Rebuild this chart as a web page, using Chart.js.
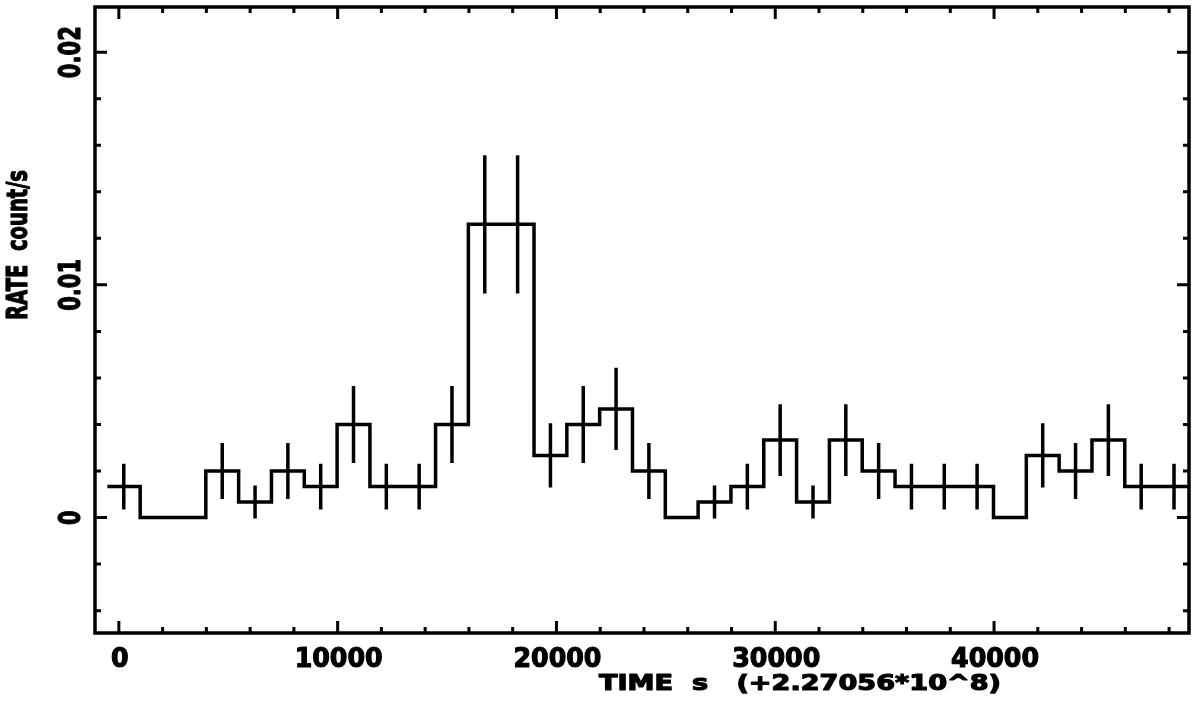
<!DOCTYPE html>
<html>
<head>
<meta charset="utf-8">
<title>RATE vs TIME</title>
<script src="https://cdn.jsdelivr.net/npm/chart.js@4.4.1/dist/chart.umd.min.js"></script>
<style>
  html, body { margin: 0; padding: 0; background: #fff; }
  canvas { display: block; }
</style>
</head>
<body>
<canvas id="lightCurve" width="1200" height="706"></canvas>
<script>
// bin centres in s (offset from 2.27056e8), bins are 1500 s wide
const binCenters = [225, 1725, 3225, 4725, 6225, 7725, 9225, 10725, 12225, 13725, 15225,
    16725, 18225, 19725, 21225, 22725, 24225, 25725, 27225, 28725, 30225, 31725, 33225,
    34725, 36225, 37725, 39225, 40725, 42225, 43725, 45225, 46725, 48225];
const binWidth = 1500;

const rates = [0.00133, 0, 0, 0.0020, 0.00067, 0.0020, 0.00133, 0.0040, 0.00133, 0.00133, 0.0040,
    0.0126, 0.0126, 0.00267, 0.0040, 0.00467, 0.0020, 0, 0.00067, 0.00133, 0.00333, 0.00067,
    0.00333, 0.0020, 0.00133, 0.00133, 0.00133, 0, 0.00267, 0.0020, 0.00333, 0.00133, 0.00133];

const rateErrors = [0.00098, 0, 0, 0.0012, 0.00071, 0.0012, 0.00098, 0.00165, 0.00098, 0.00098, 0.00165,
    0.00297, 0.00297, 0.00138, 0.00165, 0.00177, 0.0012, 0, 0.00071, 0.00098, 0.00154, 0.00071,
    0.00154, 0.0012, 0.00098, 0.00098, 0.00098, 0, 0.00138, 0.0012, 0.00154, 0.00098, 0.00098];

const xTickValues = [0, 10000, 20000, 30000, 40000];
const xTickLabels = ['0', '10000', '20000', '30000', '40000'];
const xMinorTicks = [2000, 4000, 6000, 8000, 12000, 14000, 16000, 18000, 22000, 24000, 26000, 28000,
    32000, 34000, 36000, 38000, 42000, 44000, 46000, 48000];
const yTickValues = [0, 0.01, 0.02];
const yTickLabels = ['0', '0.01', '0.02'];
const yMinorTicks = [-0.004, -0.002, 0.002, 0.004, 0.006, 0.008, 0.012, 0.014, 0.016, 0.018];

const xRange = [-1090, 48910];
const yRange = [-0.00496, 0.02194];

// step histogram: one point per bin start, plus the end of the last bin
const stepPoints = binCenters.map((c, i) => ({ x: c - binWidth / 2, y: rates[i] }));
stepPoints.push({ x: binCenters[binCenters.length - 1] + binWidth / 2, y: rates[rates.length - 1] });

// vertical error bars, split by null gaps
const errorPoints = [];
binCenters.forEach((c, i) => {
    if (rateErrors[i] > 0) {
        errorPoints.push({ x: c, y: rates[i] - rateErrors[i] });
        errorPoints.push({ x: c, y: rates[i] + rateErrors[i] });
        errorPoints.push({ x: c, y: null });
    }
});

function drawText(ctx, text, px, py, size, stretch, align, rotate) {
    ctx.save();
    ctx.translate(px, py);
    if (rotate) ctx.rotate(rotate);
    ctx.scale(stretch, 1);
    ctx.font = 'bold ' + size + 'px "DejaVu Sans"';
    ctx.textAlign = align;
    ctx.textBaseline = 'alphabetic';
    ctx.fillStyle = '#000';
    ctx.strokeStyle = '#000';
    ctx.lineWidth = 1.2;
    ctx.lineJoin = 'round';
    ctx.fillText(text, 0, 0);
    ctx.strokeText(text, 0, 0); // PGPLOT text is heavier than plain bold
    ctx.restore();
}

function stretchFor(ctx, text, size, width) {
    ctx.save();
    ctx.font = 'bold ' + size + 'px "DejaVu Sans"';
    const w = ctx.measureText(text).width;
    ctx.restore();
    return width / w;
}

const frameAndLabels = {
    id: 'frameAndLabels',
    afterDatasetsDraw(chart) {
        const { ctx, chartArea: a, scales: { x, y } } = chart;
        ctx.save();
        ctx.strokeStyle = '#000';
        ctx.lineWidth = 3.5;
        ctx.strokeRect(a.left, a.top, a.right - a.left, a.bottom - a.top);

        // inward ticks on all four sides
        ctx.lineWidth = 3;
        ctx.beginPath();
        const tickX = (v, len) => {
            const px = x.getPixelForValue(v);
            ctx.moveTo(px, a.bottom); ctx.lineTo(px, a.bottom - len);
            ctx.moveTo(px, a.top); ctx.lineTo(px, a.top + len);
        };
        const tickY = (v, len) => {
            const py = y.getPixelForValue(v);
            ctx.moveTo(a.left, py); ctx.lineTo(a.left + len, py);
            ctx.moveTo(a.right, py); ctx.lineTo(a.right - len, py);
        };
        xTickValues.forEach(v => tickX(v, 12));
        xMinorTicks.forEach(v => tickX(v, 6));
        yTickValues.forEach(v => tickY(v, 12));
        yMinorTicks.forEach(v => tickY(v, 6));
        ctx.stroke();

        // x tick labels
        const xs = stretchFor(ctx, '10000', 27, 88);
        xTickValues.forEach((v, i) => {
            drawText(ctx, xTickLabels[i], x.getPixelForValue(v) + 1, 667, 27, xs, 'center');
        });

        // y tick labels, rotated
        const ys = stretchFor(ctx, '0.02', 31, 52);
        yTickValues.forEach((v, i) => {
            drawText(ctx, yTickLabels[i], 80, y.getPixelForValue(v), 31, ys, 'center', -Math.PI / 2);
        });

        // axis titles
        const yTitle = 'RATE  count/s';
        drawText(ctx, yTitle, 27, 245, 29, stretchFor(ctx, yTitle, 29, 150), 'center', -Math.PI / 2);
        const xTitle = 'TIME  s   (+2.27056*10^8)';
        drawText(ctx, xTitle, 599, 690, 21, stretchFor(ctx, xTitle, 21, 402), 'left');
        ctx.restore();
    }
};

new Chart(document.getElementById('lightCurve'), {
    type: 'line',
    data: {
        datasets: [{
            label: 'RATE',
            data: stepPoints,
            stepped: 'before',
            borderColor: '#000',
            borderWidth: 3.5,
            borderJoinStyle: 'miter',
            pointRadius: 0,
            fill: false
        }, {
            label: 'error',
            data: errorPoints,
            borderColor: '#000',
            borderWidth: 3.5,
            borderCapStyle: 'butt',
            pointRadius: 0,
            spanGaps: false,
            fill: false
        }]
    },
    options: {
        responsive: false,
        animation: false,
        devicePixelRatio: 1,
        layout: { padding: { left: 95, top: 7, right: 11, bottom: 73 } },
        plugins: { legend: { display: false }, tooltip: { enabled: false } },
        scales: {
            x: { type: 'linear', min: xRange[0], max: xRange[1], display: false },
            y: { min: yRange[0], max: yRange[1], display: false }
        }
    },
    plugins: [frameAndLabels]
});
</script>
</body>
</html>
